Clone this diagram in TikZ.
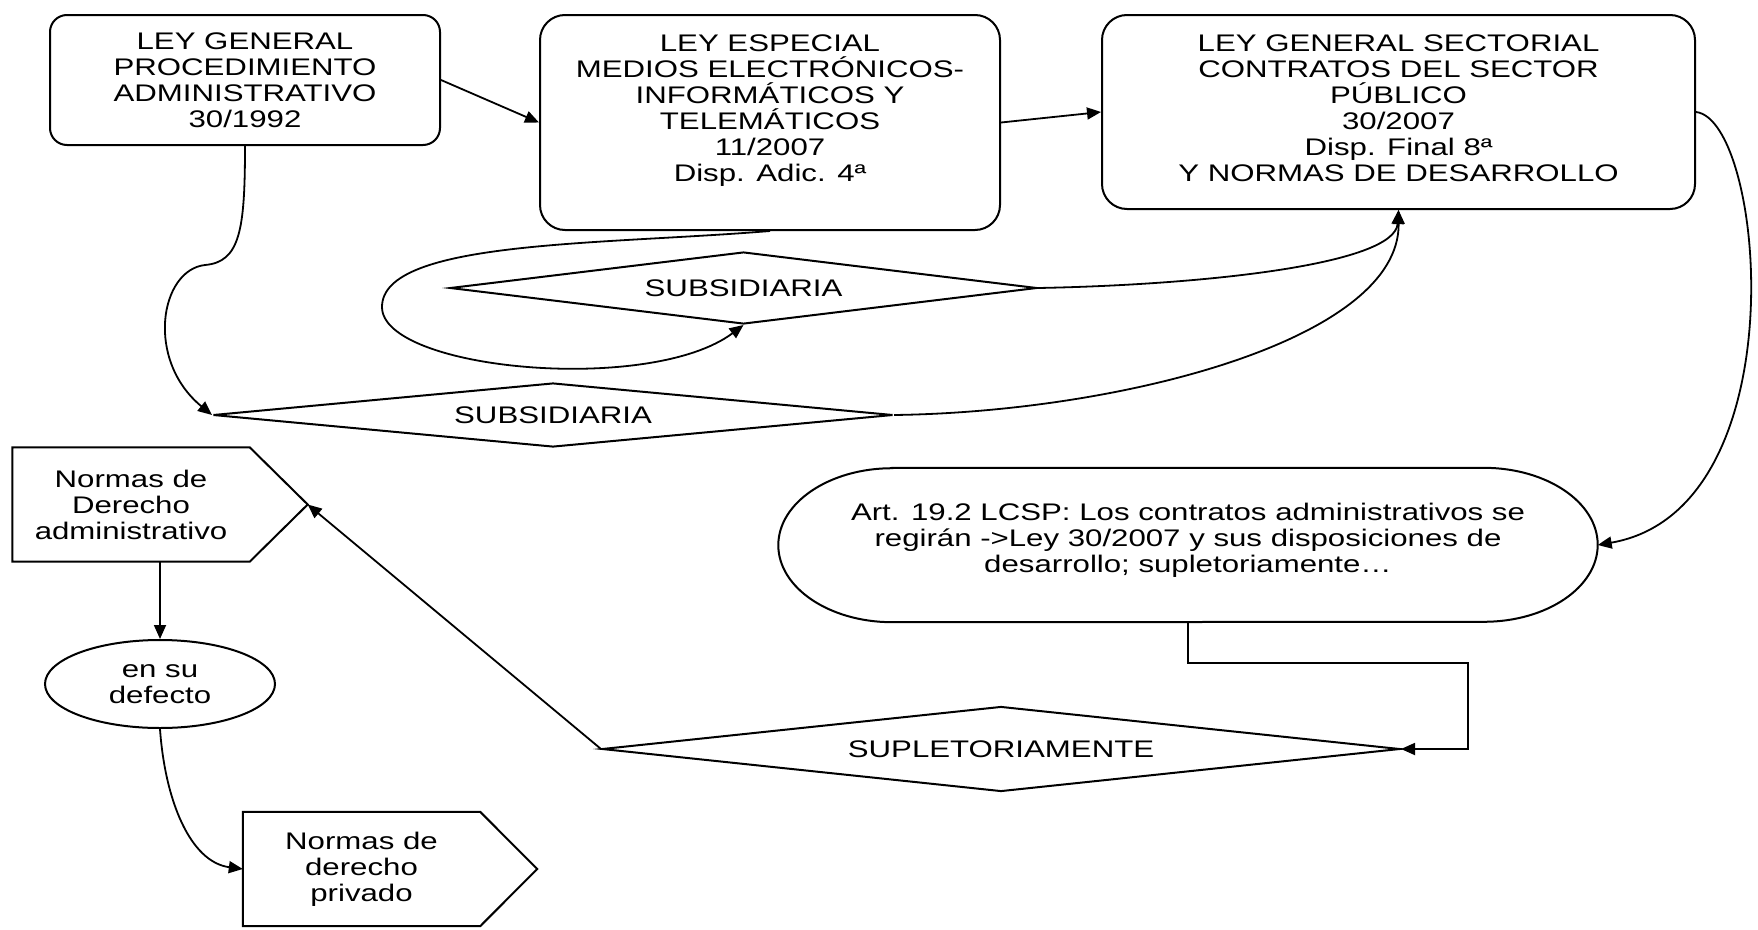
\documentclass[tikz,border=0pt]{standalone}
\usepackage{fontspec}
\setmainfont{Liberation Sans}[FakeStretch=1.3]
\usetikzlibrary{calc,arrows.meta,shapes.geometric}

\begin{document}
\begin{tikzpicture}[x=1pt,y=-1pt,
        font=\fontsize{24}{26}\selectfont,
        law box/.style={draw, line width=2pt, rounded corners=25pt, align=center, inner sep=0pt},
        decision/.style={draw, diamond, aspect=10, line width=2pt, inner sep=0pt},
        flag text/.style={align=center, inner sep=0pt, minimum width=237pt, minimum height=114pt},
        shape line/.style={line width=2pt, line join=miter},
        link/.style={line width=1.8pt, -{Triangle[length=14pt,width=12pt]}}]
  \useasboundingbox (0,0) rectangle (1758,929);

  % top row
  \node[law box, rounded corners=17pt, minimum width=390pt, minimum height=130pt] (gen) at (245,80)
    {LEY GENERAL\\PROCEDIMIENTO\\ADMINISTRATIVO\\30/1992};
  \node[law box, minimum width=460pt, minimum height=215pt, text depth=29pt] (esp) at (770,122.5)
    {LEY ESPECIAL\\MEDIOS ELECTRÓNICOS-\\INFORMÁTICOS Y\\TELEMÁTICOS\\11/2007\\Disp. Adic. 4ª};
  \node[law box, minimum width=593pt, minimum height=194pt, text depth=8pt] (ley30) at (1398.5,112)
    {LEY GENERAL SECTORIAL\\CONTRATOS DEL SECTOR\\PÚBLICO\\30/2007\\Disp. Final 8ª\\Y NORMAS DE DESARROLLO};

  % diamonds
  \node[decision, minimum width=587pt, minimum height=72pt] (sub1) at (743.5,288) {SUBSIDIARIA};
  \node[decision, minimum width=680pt, minimum height=64pt] (sub2) at (553,415) {SUBSIDIARIA};
  \node[decision, minimum width=798pt, minimum height=85pt] (supl) at (1001,749) {SUPLETORIAMENTE};

  \node[align=center, inner sep=0pt, minimum width=819pt, minimum height=154pt, text depth=14pt] (art) at (1188,545)
    {Art. 19.2 LCSP: Los contratos administrativos se\\regirán ->Ley 30/2007 y sus disposiciones de\\desarrollo; supletoriamente…};
  \draw[shape line] ($(art.north west)+(114,0)$) -- ($(art.north east)+(-114,0)$)
    arc[start angle=90, end angle=-90, x radius=114pt, y radius=77pt]
    -- ($(art.south west)+(114,0)$)
    arc[start angle=270, end angle=90, x radius=114pt, y radius=77pt] -- cycle;

  % left column
  \node[flag text] (adm) at (131,504.5) {Normas de\\Derecho\\administrativo};
  \coordinate (admtip) at ($(adm.east)+(58,0)$);
  \draw[shape line] (adm.north west) -- (adm.north east) -- (admtip) -- (adm.south east) -- (adm.south west) -- cycle;

  \node[draw, ellipse, line width=2pt, align=center, inner sep=0pt,
        minimum width=230pt, minimum height=88pt] (enfec) at (160,684) {en su\\defecto};

  \node[flag text] (priv) at (361.5,869) {Normas de\\derecho\\privado};
  \coordinate (privtip) at ($(priv.east)+(57,0)$);
  \draw[shape line] (priv.north west) -- (priv.north east) -- (privtip) -- (priv.south east) -- (priv.south west) -- cycle;

  % connectors
  \draw[link] (gen.east) -- (esp.west);
  \draw[link] (esp.east) -- (ley30.west);
  \draw[link] (gen.south) .. controls (245,230) and (240,262) .. (205,265)
                          .. controls (160,270) and (145,360) .. (sub2.west);
  \draw[link] (esp.south) .. controls (600,245) and (382,240) .. (382,307)
                          .. controls (382,370) and (650,395) .. (sub1.south);
  \draw[link] (sub1.east) .. controls (1200,285) and (1395,265) .. (ley30.south);
  \draw[link] (sub2.east) .. controls (1120,412) and (1400,340) .. (ley30.south);
  \draw[link] (ley30.east) .. controls (1765,120) and (1800,510) .. (art.east);
  \draw[link] (art.south) -- ++(0,41) -| ($(supl.east)+(67,0)$) -- (supl.east);
  \draw[link] (supl.west) -- (admtip);
  \draw[link] (enfec.north |- adm.south) -- (enfec.north);
  \draw[link] (enfec.south) .. controls (165,800) and (190,862) .. (priv.west);
\end{tikzpicture}
\end{document}
